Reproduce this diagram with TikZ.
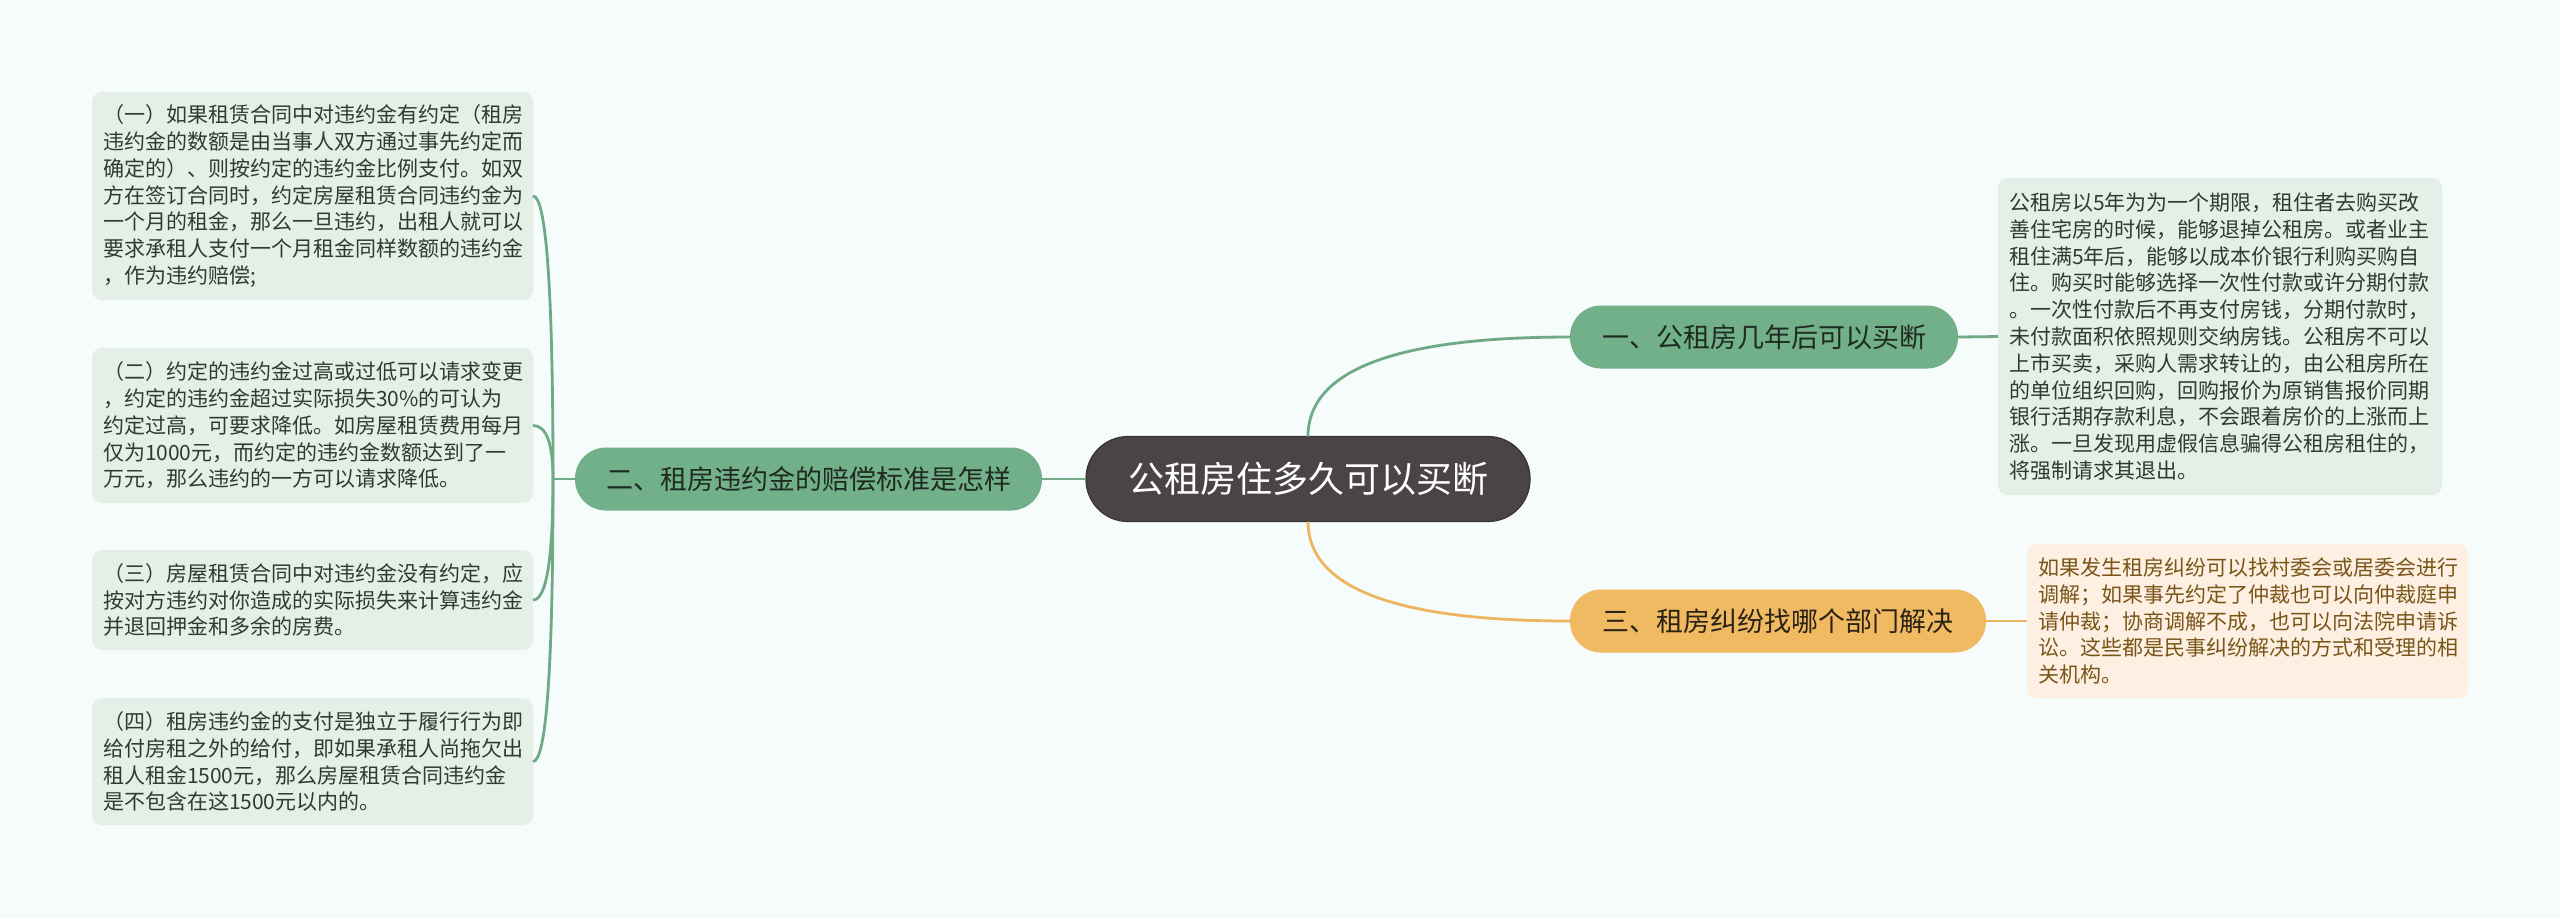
\documentclass[tikz,border=0pt]{standalone}
\usepackage{fontspec}
\setmainfont{Noto Sans CJK SC}
\usetikzlibrary{calc}
\definecolor{bgcol}{HTML}{F6FBFB}
\definecolor{gline}{HTML}{6DAA85}
\definecolor{gnode}{HTML}{72B089}
\definecolor{oline}{HTML}{EDB65E}
\definecolor{onode}{HTML}{F0BA62}
\definecolor{cnode}{HTML}{4A4544}
\definecolor{gbox}{HTML}{E3EFE7}
\definecolor{obox}{HTML}{FDF0E2}
\definecolor{gtext}{HTML}{2F3A31}
\definecolor{otext}{HTML}{7A5518}
\definecolor{gtitle}{HTML}{1F2B22}
\definecolor{otitle}{HTML}{2B2215}
\begin{document}
\begin{tikzpicture}[x=0.5pt,y=-0.5pt,
  every node/.style={inner sep=0pt,outer sep=0pt},
  rootnode/.style={fill=cnode,draw=cnode!75!black,line width=0.6pt,rounded corners=21pt,
    minimum width=222pt,minimum height=42.5pt,text=white,font=\fontsize{18}{20}\selectfont},
  topicg/.style={fill=gnode,rounded corners=15.5pt,minimum height=31.5pt,text=gtitle,
    font=\fontsize{13.5}{15}\selectfont},
  topico/.style={fill=onode,rounded corners=15.5pt,minimum height=31.5pt,text=otitle,
    font=\fontsize{13.5}{15}\selectfont},
  detail/.style={rounded corners=5pt,inner xsep=5.5pt,align=left,
    font=\fontsize{10.5}{13.4}\selectfont},
  gdetail/.style={detail,fill=gbox,text=gtext},
  odetail/.style={detail,fill=obox,text=otext},
  glink/.style={draw=gline,line width=1.4pt},
  olink/.style={draw=oline,line width=1.4pt}]
\fill[bgcol] (0,0) rectangle (2560,918);
\useasboundingbox (0,0) rectangle (2560,918);

% root
\node[rootnode] (root) at (1308,479) {公租房住多久可以买断};

% topics
\node[topicg,minimum width=233.5pt] (n2) at (808.5,479) {二、租房违约金的赔偿标准是怎样};
\node[topicg,minimum width=194pt] (n1) at (1764,337) {一、公租房几年后可以买断};
\node[topico,minimum width=208pt] (n3) at (1778,621) {三、租房纠纷找哪个部门解决};

% left details
\node[gdetail,text width=209.5pt,minimum height=104pt] (L1) at (312.5,196) {%
（一）如果租赁合同中对违约金有约定（租房\\
违约金的数额是由当事人双方通过事先约定而\\
确定的）、则按约定的违约金比例支付。如双\\
方在签订合同时，约定房屋租赁合同违约金为\\
一个月的租金，那么一旦违约，出租人就可以\\
要求承租人支付一个月租金同样数额的违约金\\
，作为违约赔偿;};
\node[gdetail,text width=209.5pt,minimum height=77.5pt] (L2) at (312.5,425.5) {%
（二）约定的违约金过高或过低可以请求变更\\
，约定的违约金超过实际损失30\%的可认为\\
约定过高，可要求降低。如房屋租赁费用每月\\
仅为1000元，而约定的违约金数额达到了一\\
万元，那么违约的一方可以请求降低。};
\node[gdetail,text width=209.5pt,minimum height=50pt] (L3) at (312.5,600) {%
（三）房屋租赁合同中对违约金没有约定，应\\
按对方违约对你造成的实际损失来计算违约金\\
并退回押金和多余的房费。};
\node[gdetail,text width=209.5pt,minimum height=63.5pt] (L4) at (312.5,761.5) {%
（四）租房违约金的支付是独立于履行行为即\\
给付房租之外的给付，即如果承租人尚拖欠出\\
租人租金1500元，那么房屋租赁合同违约金\\
是不包含在这1500元以内的。};

% right details
\node[gdetail,text width=211pt,minimum height=158.5pt] (R1) at (2220,336.5) {%
公租房以5年为为一个期限，租住者去购买改\\
善住宅房的时候，能够退掉公租房。或者业主\\
租住满5年后，能够以成本价银行利购买购自\\
住。购买时能够选择一次性付款或许分期付款\\
。一次性付款后不再支付房钱，分期付款时，\\
未付款面积依照规则交纳房钱。公租房不可以\\
上市买卖，采购人需求转让的，由公租房所在\\
的单位组织回购，回购报价为原销售报价同期\\
银行活期存款利息，不会跟着房价的上涨而上\\
涨。一旦发现用虚假信息骗得公租房租住的，\\
将强制请求其退出。};
\node[odetail,text width=209.5pt,minimum height=77.5pt] (R3) at (2247.5,621) {%
如果发生租房纠纷可以找村委会或居委会进行\\
调解；如果事先约定了仲裁也可以向仲裁庭申\\
请仲裁；协商调解不成，也可以向法院申请诉\\
讼。这些都是民事纠纷解决的方式和受理的相\\
关机构。};

% connectors
\coordinate (t) at (553,479);
\draw[glink] (root.west) -- (n2.east);
\draw[glink] (n2.west) -- (t);
\foreach \b in {L1,L2,L3,L4}{
  \draw[glink] (t) .. controls ($(t)!2/3!(t |- \b.east)$) and ($(\b.east)!2/3!(t |- \b.east)$) .. (\b.east);
}
\draw[glink] (root.north) .. controls ($(root.north)!2/3!(root.north |- n1.west)$) and ($(n1.west)!2/3!(root.north |- n1.west)$) .. (n1.west);
\draw[olink] (root.south) .. controls ($(root.south)!2/3!(root.south |- n3.west)$) and ($(n3.west)!2/3!(root.south |- n3.west)$) .. (n3.west);
\draw[glink] (n1.east) -- (R1.west);
\draw[olink] (n3.east) -- (R3.west);
\end{tikzpicture}
\end{document}
